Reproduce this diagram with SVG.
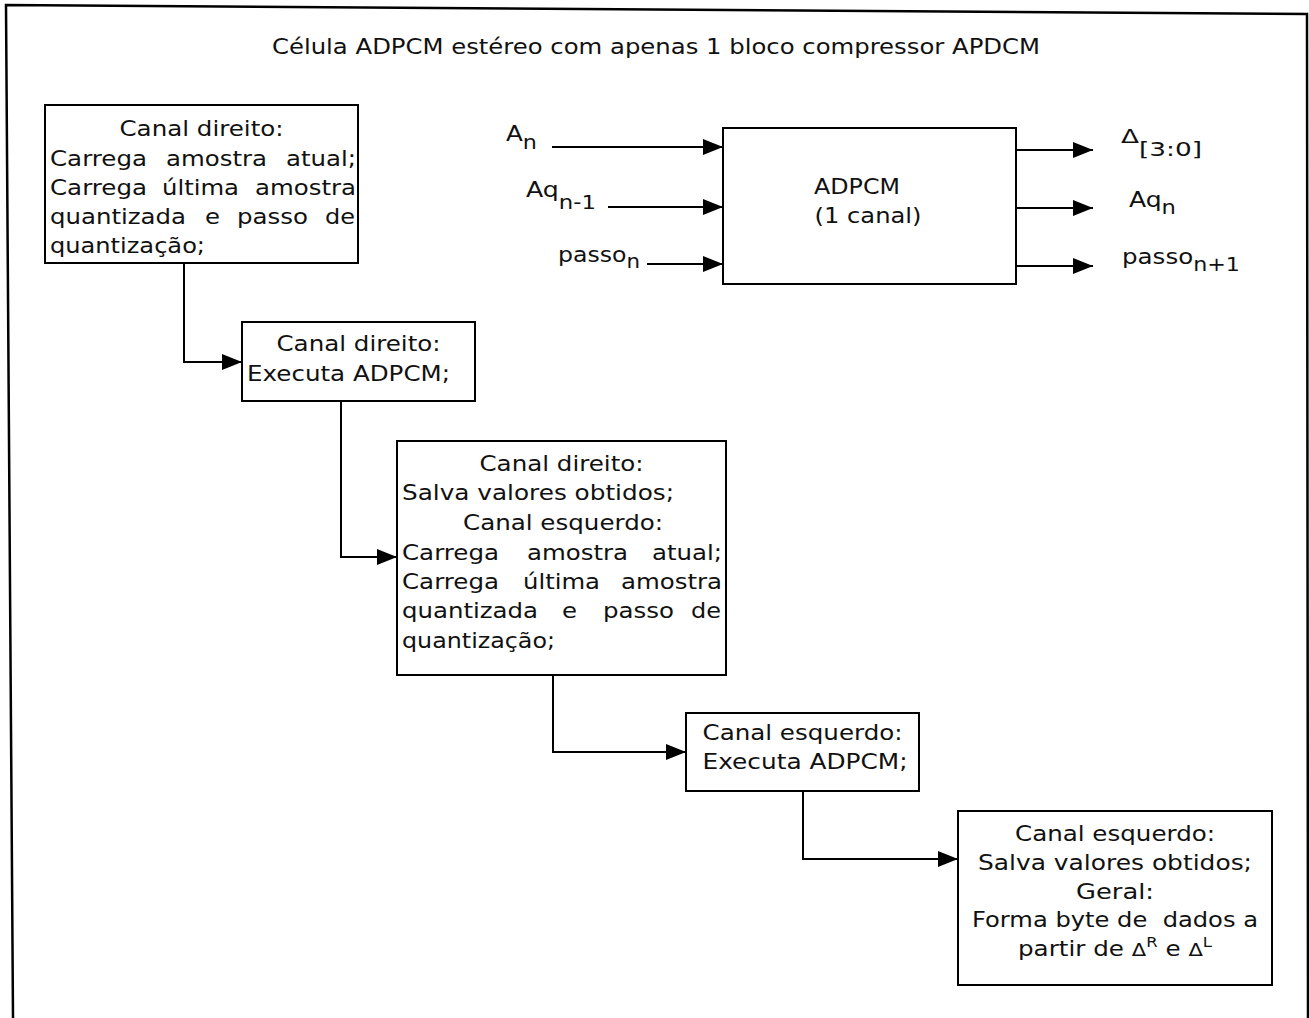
<svg xmlns="http://www.w3.org/2000/svg" width="1309" height="1018" viewBox="0 0 1309 1018">
  <style>
    .box { fill: #fff; stroke: #000; stroke-width: 2; }
    .frame { fill: none; stroke: #000; stroke-width: 2.5; }
    .wire { fill: none; stroke: #000; stroke-width: 2; }
    text { font-family: "DejaVu Sans", Verdana, sans-serif; font-size: 21px; fill: #111; }
    .c { text-anchor: middle; }
    .lbl { font-size: 21px; }
    .sub { font-size: 19px; }
  </style>
  <defs>
    <marker id="arrow" markerUnits="userSpaceOnUse" markerWidth="20" markerHeight="16" refX="20" refY="8" orient="auto">
      <path d="M0,0 L20,8 L0,16 Z" fill="#000"/>
    </marker>
  </defs>

  <rect width="1309" height="1018" fill="#fff"/>

  <!-- outer border -->
  <path class="frame" d="M13,1018 L6,5 L1307,14 L1308,1018"/>

  <!-- heading -->
  <text id="title" class="c" x="656" y="54" textLength="768" lengthAdjust="spacingAndGlyphs">Célula ADPCM estéreo com apenas 1 bloco compressor APDCM</text>

  <!-- connectors -->
  <g id="connectors">
    <path class="wire" d="M552,147 H723" marker-end="url(#arrow)"/>
    <path class="wire" d="M608,207 H723" marker-end="url(#arrow)"/>
    <path class="wire" d="M647,264 H723" marker-end="url(#arrow)"/>
    <path class="wire" d="M1016,150 H1093" marker-end="url(#arrow)"/>
    <path class="wire" d="M1016,208 H1093" marker-end="url(#arrow)"/>
    <path class="wire" d="M1016,266 H1093" marker-end="url(#arrow)"/>
    <path class="wire" d="M184,263 V362 H242" marker-end="url(#arrow)"/>
    <path class="wire" d="M341,401 V557 H397" marker-end="url(#arrow)"/>
    <path class="wire" d="M553,675 V752 H686" marker-end="url(#arrow)"/>
    <path class="wire" d="M803,791 V859 H958" marker-end="url(#arrow)"/>
  </g>

  <!-- ADPCM block with its signals -->
  <g id="adpcm">
    <rect class="box" x="723" y="128" width="293" height="156"/>
    <text class="c" x="857" y="194" textLength="86" lengthAdjust="spacingAndGlyphs">ADPCM</text>
    <text class="c" x="868" y="223" textLength="107" lengthAdjust="spacingAndGlyphs">(1 canal)</text>
  </g>

  <g id="in-an">
    <text class="lbl" x="506" y="141" textLength="31" lengthAdjust="spacingAndGlyphs">A<tspan class="sub" dy="8">n</tspan></text>
  </g>
  <g id="in-aq">
    <text class="lbl" x="526" y="197" textLength="70" lengthAdjust="spacingAndGlyphs">Aq<tspan class="sub" dy="12">n-1</tspan></text>
  </g>
  <g id="in-passo">
    <text class="lbl" x="558" y="262" textLength="82" lengthAdjust="spacingAndGlyphs">passo<tspan class="sub" dy="6">n</tspan></text>
  </g>
  <g id="out-delta">
    <text class="lbl" x="1121" y="143" textLength="81" lengthAdjust="spacingAndGlyphs"><tspan font-size="19">Δ</tspan><tspan class="sub" dy="13">[3:0]</tspan></text>
  </g>
  <g id="out-aq">
    <text class="lbl" x="1129" y="207" textLength="47" lengthAdjust="spacingAndGlyphs">Aq<tspan class="sub" dy="7">n</tspan></text>
  </g>
  <g id="out-passo">
    <text class="lbl" x="1122" y="264" textLength="118" lengthAdjust="spacingAndGlyphs">passo<tspan class="sub" dy="7">n+1</tspan></text>
  </g>

  <!-- step 1 -->
  <g id="step1">
    <rect class="box" x="45" y="105" width="313" height="158"/>
    <text class="c" x="201.5" y="136" textLength="164" lengthAdjust="spacingAndGlyphs">Canal direito:</text>
    <text y="166"><tspan x="50" textLength="97" lengthAdjust="spacingAndGlyphs">Carrega</tspan> <tspan x="166" textLength="101" lengthAdjust="spacingAndGlyphs">amostra</tspan> <tspan x="286" textLength="70" lengthAdjust="spacingAndGlyphs">atual;</tspan></text>
    <text y="195"><tspan x="50" textLength="97" lengthAdjust="spacingAndGlyphs">Carrega</tspan> <tspan x="162" textLength="77" lengthAdjust="spacingAndGlyphs">última</tspan> <tspan x="255" textLength="101" lengthAdjust="spacingAndGlyphs">amostra</tspan></text>
    <text y="224"><tspan x="50" textLength="136" lengthAdjust="spacingAndGlyphs">quantizada</tspan> <tspan x="205" textLength="15" lengthAdjust="spacingAndGlyphs">e</tspan> <tspan x="237" textLength="71" lengthAdjust="spacingAndGlyphs">passo</tspan> <tspan x="325" textLength="30" lengthAdjust="spacingAndGlyphs">de</tspan></text>
    <text x="50" y="253" textLength="155" lengthAdjust="spacingAndGlyphs">quantização;</text>
  </g>

  <!-- step 2 -->
  <g id="step2">
    <rect class="box" x="242" y="322" width="233" height="79"/>
    <text class="c" x="358.5" y="351" textLength="164" lengthAdjust="spacingAndGlyphs">Canal direito:</text>
    <text x="247" y="381" textLength="203" lengthAdjust="spacingAndGlyphs">Executa ADPCM;</text>
  </g>

  <!-- step 3 -->
  <g id="step3">
    <rect class="box" x="397" y="441" width="329" height="234"/>
    <text class="c" x="561.5" y="471" textLength="164" lengthAdjust="spacingAndGlyphs">Canal direito:</text>
    <text x="402" y="500" textLength="272" lengthAdjust="spacingAndGlyphs">Salva valores obtidos;</text>
    <text class="c" x="563" y="530" textLength="200" lengthAdjust="spacingAndGlyphs">Canal esquerdo:</text>
    <text y="560"><tspan x="402" textLength="97" lengthAdjust="spacingAndGlyphs">Carrega</tspan> <tspan x="527" textLength="101" lengthAdjust="spacingAndGlyphs">amostra</tspan> <tspan x="652" textLength="70" lengthAdjust="spacingAndGlyphs">atual;</tspan></text>
    <text y="589"><tspan x="402" textLength="97" lengthAdjust="spacingAndGlyphs">Carrega</tspan> <tspan x="523" textLength="77" lengthAdjust="spacingAndGlyphs">última</tspan> <tspan x="621" textLength="101" lengthAdjust="spacingAndGlyphs">amostra</tspan></text>
    <text y="618"><tspan x="402" textLength="136" lengthAdjust="spacingAndGlyphs">quantizada</tspan> <tspan x="562" textLength="15" lengthAdjust="spacingAndGlyphs">e</tspan> <tspan x="603" textLength="71" lengthAdjust="spacingAndGlyphs">passo</tspan> <tspan x="691" textLength="30" lengthAdjust="spacingAndGlyphs">de</tspan></text>
    <text x="402" y="648" textLength="153" lengthAdjust="spacingAndGlyphs">quantização;</text>
  </g>

  <!-- step 4 -->
  <g id="step4">
    <rect class="box" x="686" y="713" width="233" height="78"/>
    <text class="c" x="802.5" y="740" textLength="200" lengthAdjust="spacingAndGlyphs">Canal esquerdo:</text>
    <text class="c" x="805" y="769" textLength="205" lengthAdjust="spacingAndGlyphs">Executa ADPCM;</text>
  </g>

  <!-- step 5 -->
  <g id="step5">
    <rect class="box" x="958" y="811" width="314" height="174"/>
    <text class="c" x="1115" y="841" textLength="200" lengthAdjust="spacingAndGlyphs">Canal esquerdo:</text>
    <text class="c" x="1115" y="870" textLength="274" lengthAdjust="spacingAndGlyphs">Salva valores obtidos;</text>
    <text class="c" x="1115" y="899" textLength="78" lengthAdjust="spacingAndGlyphs">Geral:</text>
    <text class="c" x="1115" y="927" textLength="286" lengthAdjust="spacingAndGlyphs" xml:space="preserve">Forma byte de  dados a</text>
    <text class="c" x="1115" y="956" textLength="194" lengthAdjust="spacingAndGlyphs">partir de <tspan font-size="18">Δ</tspan><tspan font-size="14" dy="-9">R</tspan><tspan dy="9"> e </tspan><tspan font-size="18">Δ</tspan><tspan font-size="14" dy="-9">L</tspan></text>
  </g>
</svg>
